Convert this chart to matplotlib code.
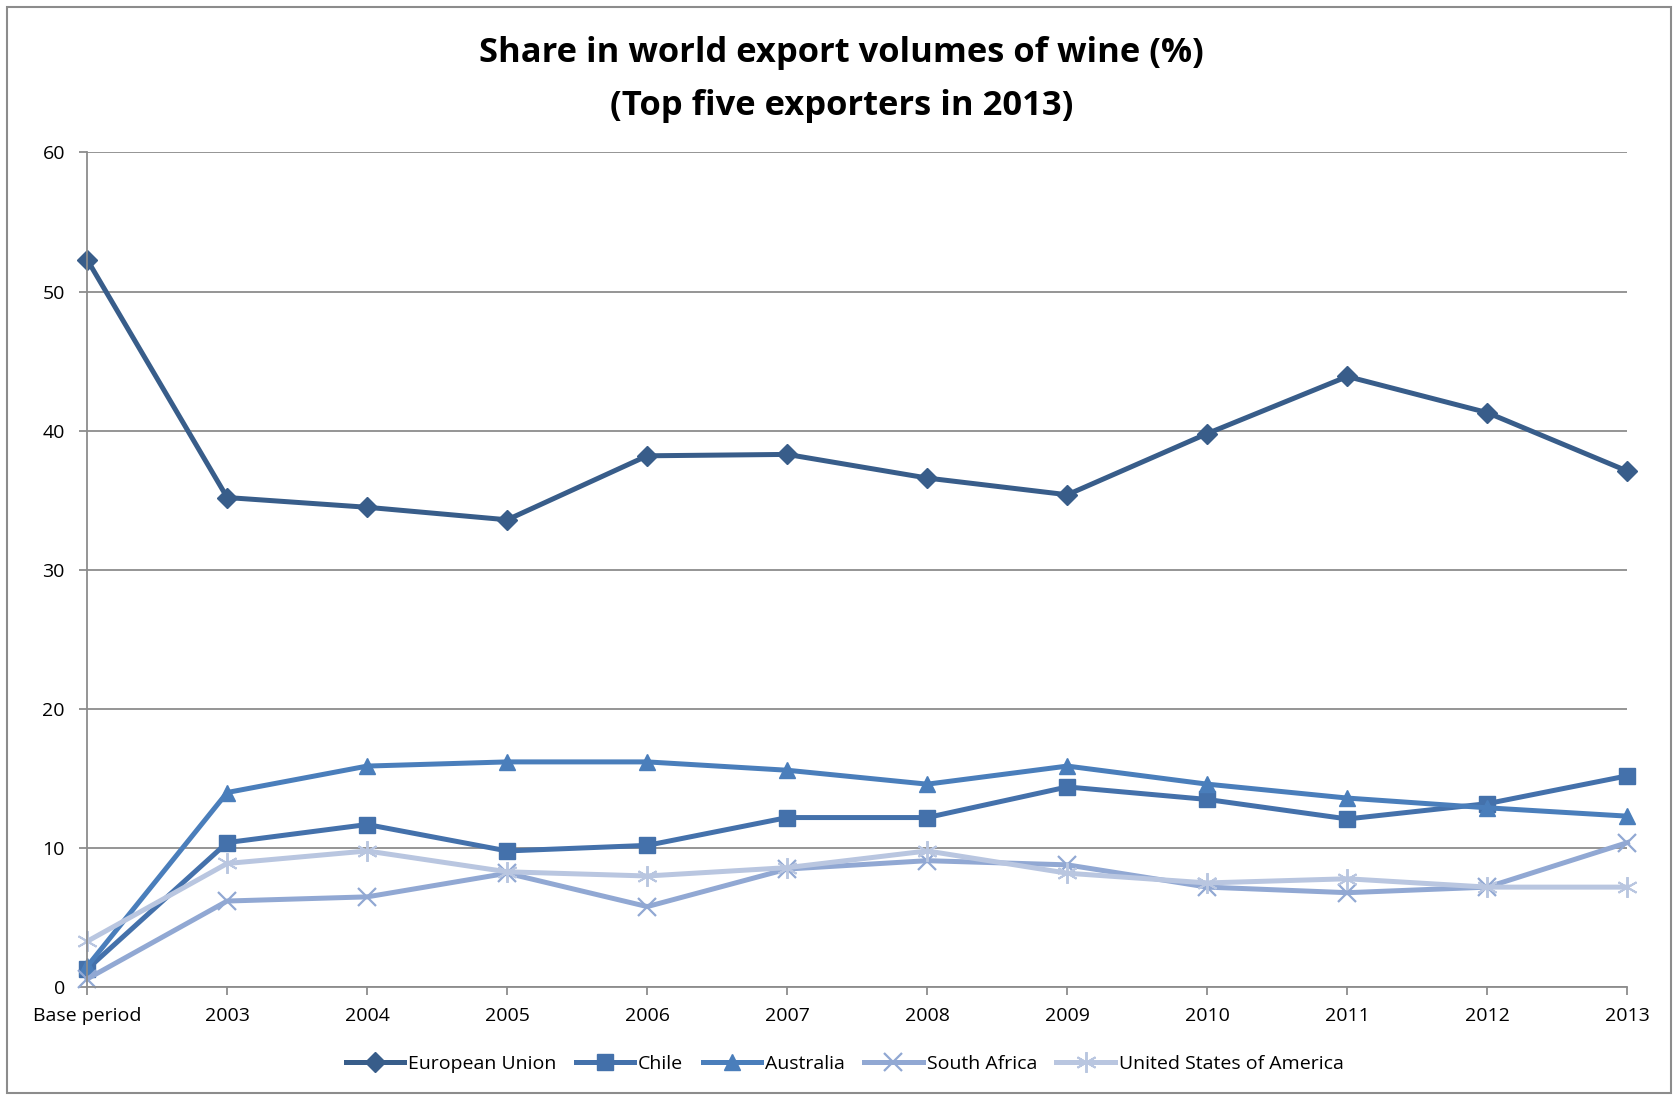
import matplotlib
matplotlib.use('Agg')
import matplotlib.pyplot as plt
from matplotlib.patches import Rectangle

categories = ["Base period", "2003", "2004", "2005", "2006", "2007",
              "2008", "2009", "2010", "2011", "2012", "2013"]

eu = [52.3, 35.2, 34.5, 33.6, 38.2, 38.3, 36.6, 35.4, 39.8, 43.9, 41.3, 37.1]
chile = [1.3, 10.4, 11.7, 9.8, 10.2, 12.2, 12.2, 14.4, 13.5, 12.1, 13.2, 15.2]
australia = [1.5, 14.0, 15.9, 16.2, 16.2, 15.6, 14.6, 15.9, 14.6, 13.6, 12.9, 12.3]
south_africa = [0.6, 6.2, 6.5, 8.2, 5.8, 8.5, 9.1, 8.8, 7.2, 6.8, 7.2, 10.4]
usa = [3.3, 8.9, 9.8, 8.3, 8.0, 8.6, 9.8, 8.2, 7.5, 7.8, 7.2, 7.2]

plt.rcParams['font.family'] = ['Open Sans', 'DejaVu Sans']

fig = plt.figure(figsize=(16.76, 10.97), dpi=100)
ax = fig.add_axes([0.052, 0.100, 0.919, 0.761])

x = list(range(len(categories)))
series = [
    ("European Union", eu, "#385D8A", "D", 10, 0),
    ("Chile", chile, "#4471AB", "s", 12, 0),
    ("Australia", australia, "#4A7EBB", "^", 12, 0),
    ("South Africa", south_africa, "#91A8D3", "x", 13, 1.6),
    ("United States of America", usa, "#B9C6E0", (6, 2, 0), 15, 1.4),
]
for name, vals, col, mk, ms, mew in series:
    kw = dict(color=col, lw=3.6, marker=mk, markersize=ms, label=name,
              markerfacecolor=col, markeredgecolor=col, clip_on=False)
    if mew:
        kw['markeredgewidth'] = mew
    ax.plot(x, vals, **kw)

ax.set_xlim(0, 11)
ax.set_ylim(0, 60)
ax.set_yticks(range(0, 61, 10))
ax.set_xticks(x)
ax.set_xticklabels(categories)
ax.grid(axis='y', color='#8c8c8c', lw=1.3)
ax.set_axisbelow(True)
for s in ['top', 'right']:
    ax.spines[s].set_visible(False)
for s in ['left', 'bottom']:
    ax.spines[s].set_color('#8c8c8c')
    ax.spines[s].set_linewidth(1.3)
ax.tick_params(axis='both', colors='#8c8c8c', labelcolor='black',
               labelsize=14, length=6, width=1.3)
ax.tick_params(axis='x', pad=8)
ax.tick_params(axis='y', pad=10)

fig.suptitle("Share in world export volumes of wine (%)\n(Top five exporters in 2013)",
             x=0.502, y=0.967, fontsize=24.8, fontweight='bold', linespacing=1.72)

fig.legend(loc='center', bbox_to_anchor=(0.504, 0.030), ncol=5, frameon=False,
           fontsize=14, handlelength=3.0, columnspacing=1.0, handletextpad=0.2)

fig.patches.append(Rectangle((0.004, 0.004), 0.993, 0.990, transform=fig.transFigure,
                             fill=False, edgecolor='#8c8c8c', lw=1.5))

plt.savefig('out.png', dpi=100)
plt.close()
